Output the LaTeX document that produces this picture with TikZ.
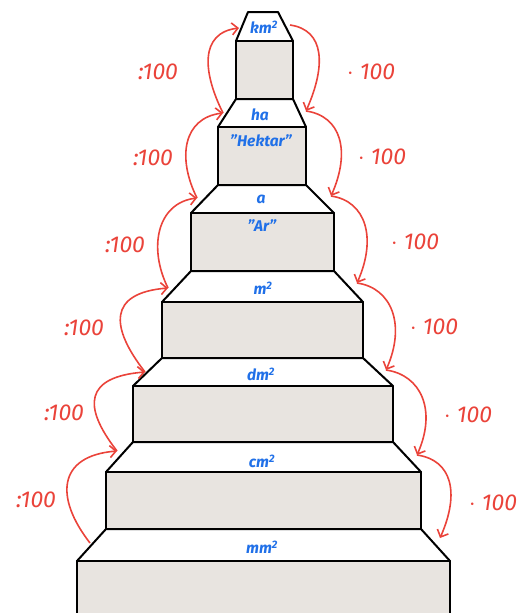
\documentclass[tikz,border=0pt]{standalone}
\usepackage{fontspec}
\setmainfont{Fira Sans}
\usetikzlibrary{arrows.meta}

\definecolor{convred}{RGB}{234,67,58}
\definecolor{unitblue}{RGB}{32,112,232}
\definecolor{blockgray}{RGB}{232,228,224}

\begin{document}
\begin{tikzpicture}[x=1pt, y=-1pt,
    lid/.style={draw=black, fill=white, line width=2pt, line join=round}, % Slanted step
    block/.style={draw=black, fill=blockgray, line width=2pt, line join=round}, % Step face
    unit/.style={text=unitblue, font=\bfseries\itshape\fontsize{15.5}{15.5}\selectfont, inner sep=0pt},
    factor/.style={text=convred, font=\itshape\fontsize{23}{23}\selectfont, inner sep=0pt},
    conv/.style={draw=convred, line width=1.6pt, -{Straight Barb[length=6pt, width=12pt]}}
]
\useasboundingbox (0,0) rectangle (525,613);

% Steps, from km^2 down to mm^2
\foreach \pl/\pr/\xl/\xr/\ya/\yb/\yc in {
    248/278/236/293/12/41/99,
    236/293/218/306/99/127/185,
    218/306/191/334/185/213/271,
    191/334/162/363/271/302/358,
    162/363/133/393/358/386/442,
    133/393/106/421/442/472/529,
    106/421/77/450/529/561/630}
{
    \draw[lid] (\pl,\ya) -- (\pr,\ya) -- (\xr,\yb) -- (\xl,\yb) -- cycle;
    \draw[block] (\xl,\yb) rectangle (\xr,\yc);
}

% Unit labels
\node[unit] (km) at (264,27) {km\textsuperscript{2}};
\node[unit] (ha) at (260,115) {ha};
\node[unit] (hektar) at (261,141) {"Hektar"};
\node[unit] (ar) at (261,199) {a};
\node[unit] (arname) at (262,226) {"Ar"};
\node[unit] (m) at (263,288) {m\textsuperscript{2}};
\node[unit] (dm) at (261,374) {dm\textsuperscript{2}};
\node[unit] (cm) at (262,461) {cm\textsuperscript{2}};
\node[unit] (mm) at (262,547) {mm\textsuperscript{2}};

% Arrow ends on the slanted edges
\coordinate (kmL) at (239,28);
\coordinate (haL) at (223,113);
\coordinate (arL) at (197,198);
\coordinate (mL) at (168,288);
\coordinate (dmL) at (145,372);
\coordinate (cmL) at (117,451);
\coordinate (mmL) at (90,543);

\coordinate (kmR) at (290,25);
\coordinate (haR) at (306,111);
\coordinate (arR) at (331,196);
\coordinate (mR) at (357,283);
\coordinate (dmR) at (386,370);
\coordinate (cmR) at (417,455);
\coordinate (mmR) at (440,538);

% Left: going up, divide
\draw[conv] (mmL) .. controls +(-35,-45) and +(-60,5) .. (cmL);
\draw[conv] (cmL) .. controls +(-35,-45) and +(-60,5) .. (dmL);
\draw[conv] (dmL) .. controls +(-35,-45) and +(-60,5) .. (mL);
\draw[conv] (mL) .. controls +(-20,-40) and +(-40,5) .. (arL);
\draw[conv] (arL) .. controls +(-20,-40) and +(-40,5) .. (haL);
\draw[conv] (haL) .. controls +(-20,-40) and +(-40,5) .. (kmL);

\node[factor] (d1) at (36,500) {:100};
\node[factor] (d2) at (64,413) {:100};
\node[factor] (d3) at (84,328) {:100};
\node[factor] (d4) at (125,245) {:100};
\node[factor] (d5) at (153,158) {:100};
\node[factor] (d6) at (158,72) {:100};

% Right: going down, multiply
\draw[conv] (kmR) .. controls +(35,5) and +(20,-45) .. (haR);
\draw[conv] (haR) .. controls +(35,5) and +(20,-45) .. (arR);
\draw[conv] (arR) .. controls +(35,5) and +(20,-45) .. (mR);
\draw[conv] (mR) .. controls +(35,5) and +(20,-45) .. (dmR);
\draw[conv] (dmR) .. controls +(35,5) and +(20,-45) .. (cmR);
\draw[conv] (cmR) .. controls +(35,5) and +(20,-45) .. (mmR);

\node[factor] (m1) at (371,72) {$\cdot$ 100};
\node[factor] (m2) at (382,157) {$\cdot$ 100};
\node[factor] (m3) at (415,242) {$\cdot$ 100};
\node[factor] (m4) at (434,327) {$\cdot$ 100};
\node[factor] (m5) at (468,415) {$\cdot$ 100};
\node[factor] (m6) at (493,503) {$\cdot$ 100};

\end{tikzpicture}
\end{document}
